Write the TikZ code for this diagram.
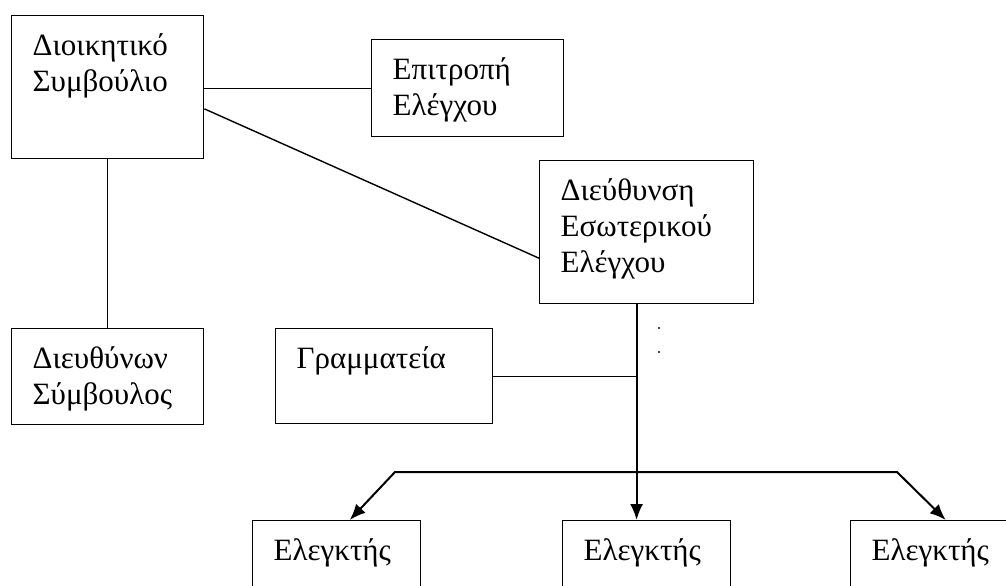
\documentclass[tikz,border=0pt]{standalone}
\usepackage{fontspec}
\setmainfont{Liberation Serif}
\usetikzlibrary{arrows.meta,calc}

\begin{document}
\begin{tikzpicture}[x=0.5pt, y=-0.5pt,
    orgbox/.style={draw, line width=0.7pt, anchor=north west, align=left,
                   inner xsep=10.5pt, inner ysep=0pt, text height=20pt,
                   font=\fontsize{15.5}{18}\selectfont},
    link/.style={line width=0.7pt},
    feed/.style={line width=1pt, -{Latex[length=8pt,width=6.5pt]}},
    fork/.style={line width=1pt, {Latex[length=8pt,width=6.5pt]}-{Latex[length=8pt,width=6.5pt]}},
    dotmark/.style={circle, fill, inner sep=0pt, minimum size=1.2pt}]
            \useasboundingbox (0,0) rectangle (1006,585);
            \clip (0,0) rectangle (1006,585);
            \node[orgbox, text width=75pt,   text depth=51.5pt] (board) at ( 11, 15) {Διοικητικό\\Συμβούλιο};
            \node[orgbox, text width=75pt,   text depth=28.5pt] (audit) at (371, 39) {Επιτροπή\\Ελέγχου};
            \node[orgbox, text width=86pt,   text depth=51.5pt] (iaud)  at (539,160) {Διεύθυνση\\Εσωτερικού\\Ελέγχου};
            \node[orgbox, text width=75pt,   text depth=28pt]   (ceo)   at ( 11,328) {Διευθύνων\\Σύμβουλος};
            \node[orgbox, text width=87.5pt, text depth=27.5pt] (secr)  at (275,328) {Γραμματεία};
            \node[orgbox, text width=63pt,   text depth=27.5pt] (aud1)  at (252,520) {Ελεγκτής};
            \node[orgbox, text width=63pt,   text depth=27.5pt] (aud2)  at (562,520) {Ελεγκτής};
            \node[orgbox, text width=63pt,   text depth=27.5pt] (aud3)  at (850,520) {Ελεγκτής};
            \node[dotmark] (dot1) at (659,328) {};
            \node[dotmark] (dot2) at (659,352) {};
            \coordinate (trunk) at ($(iaud.south west)!0.453!(iaud.south east)$);
            \coordinate (forkl) at (395,472);
            \coordinate (forkr) at (897,472);
            \draw[link] (board.east |- audit.west) -- (audit.west);
            \draw[link] ($(board.north east)!0.65!(board.south east)$) -- ($(iaud.north west)!0.68!(iaud.south west)$);
            \draw[link] (board.south) -- (ceo.north);
            \draw[link] (secr.east) -- (secr.east -| trunk);
            \draw[feed] (trunk) -- (trunk |- aud2.north);
            \draw[fork] ($(aud1.north west)!0.577!(aud1.north east)$) -- (forkl) -- (forkr) -- ($(aud3.north west)!0.565!(aud3.north east)$);
            \end{tikzpicture}
\end{document}
